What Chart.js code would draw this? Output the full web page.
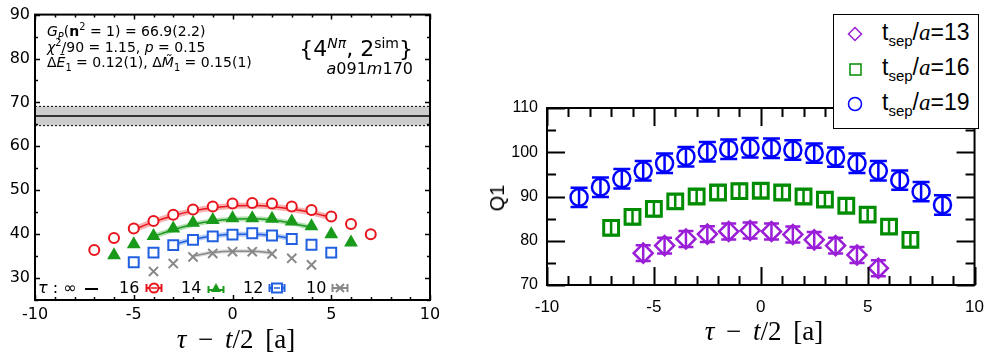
<!DOCTYPE html>
<html><head><meta charset="utf-8">
<script src="https://cdn.jsdelivr.net/npm/chart.js@4.4.1/dist/chart.umd.min.js"></script>
<style>
body{margin:0;background:#fff;width:996px;height:356px;overflow:hidden;position:relative;font-family:"DejaVu Sans",sans-serif;color:#000;}
canvas{position:absolute;top:0;}
.t{position:absolute;white-space:nowrap;line-height:1;}
.ann{font-family:"DejaVu Sans";font-size:14px;left:47px;}
.ann sub,.ann sup{font-size:70%;line-height:0;}
.ttl{font-family:"Liberation Serif";font-size:27px;text-align:center;width:260px;word-spacing:5px;}
.lg{font-family:"DejaVu Sans";font-size:16px;top:280px;}
.leg{position:absolute;left:833px;top:14px;width:146px;height:115px;box-sizing:border-box;border:1.5px solid #000;background:#fff;}
.row{position:absolute;left:0;height:30px;width:140px;}
.row svg{position:absolute;left:13px;top:6px;}
.row span{position:absolute;left:48px;top:1px;font-family:"Liberation Sans";font-size:23px;white-space:nowrap;line-height:1;}
.row sub{font-size:15px;line-height:0;vertical-align:-6px;}
</style></head>
<body>
<canvas id="c1" width="440" height="356" style="left:0"></canvas>
<canvas id="c2" width="496" height="356" style="left:500px"></canvas>

<div class="t ann" style="top:24px"><i>G<sub>P</sub></i>(<b>n</b><sup>2</sup> = 1) = 66.9(2.2)</div>
<div class="t ann" style="top:40px"><i>χ</i><sup>2</sup>/90 = 1.15, <i>p</i> = 0.15</div>
<div class="t ann" style="top:55px">Δ<i>E&#771;</i><sub>1</sub> = 0.12(1), Δ<i>M&#771;</i><sub>1</sub> = 0.15(1)</div>
<div class="t" style="right:583px;top:38px;font-size:22px;font-family:'DejaVu Sans'">{4<sup style="font-size:14px;line-height:0"><i>Nπ</i></sup>, 2<sup style="font-size:14px;line-height:0">sim</sup>}</div>
<div class="t" style="right:583px;top:61px;font-size:16px;font-family:'DejaVu Sans'"><i>a</i>091<i>m</i>170</div>

<div class="t lg" style="left:38px"><i>τ</i> : ∞</div>
<div class="t" style="left:85px;top:288px;width:13px;height:2px;background:#000"></div>
<div class="t lg" style="left:119px">16</div>
<svg class="t" style="left:145px;top:282px" width="18" height="12"><line x1="1" y1="6" x2="17" y2="6" stroke="#e8141c" stroke-width="2"/><line x1="1.5" y1="2" x2="1.5" y2="10" stroke="#e8141c" stroke-width="2"/><line x1="16.5" y1="2" x2="16.5" y2="10" stroke="#e8141c" stroke-width="2"/><circle cx="9" cy="6" r="4.5" fill="#fff" stroke="#e8141c" stroke-width="2"/><line x1="6" y1="6" x2="12" y2="6" stroke="#e8141c" stroke-width="1.5"/></svg>
<div class="t lg" style="left:181px">14</div>
<svg class="t" style="left:207px;top:282px" width="18" height="12"><line x1="1" y1="8" x2="17" y2="8" stroke="#1a9a1a" stroke-width="2"/><line x1="1.5" y1="4" x2="1.5" y2="11" stroke="#1a9a1a" stroke-width="2"/><line x1="16.5" y1="4" x2="16.5" y2="11" stroke="#1a9a1a" stroke-width="2"/><polygon points="9,1 14,10 4,10" fill="#1a9a1a"/></svg>
<div class="t lg" style="left:243px">12</div>
<svg class="t" style="left:268px;top:282px" width="18" height="12"><line x1="1" y1="6" x2="17" y2="6" stroke="#1f5fe0" stroke-width="2"/><line x1="1.5" y1="2" x2="1.5" y2="10" stroke="#1f5fe0" stroke-width="2"/><line x1="16.5" y1="2" x2="16.5" y2="10" stroke="#1f5fe0" stroke-width="2"/><rect x="4" y="1.5" width="10" height="9" fill="#fff" stroke="#1f5fe0" stroke-width="2"/><line x1="6" y1="6" x2="12" y2="6" stroke="#1f5fe0" stroke-width="1.5"/></svg>
<div class="t lg" style="left:306px">10</div>
<svg class="t" style="left:331px;top:282px" width="18" height="12"><line x1="1" y1="6" x2="17" y2="6" stroke="#888" stroke-width="2"/><line x1="1.5" y1="2" x2="1.5" y2="10" stroke="#888" stroke-width="2"/><line x1="16.5" y1="2" x2="16.5" y2="10" stroke="#888" stroke-width="2"/><line x1="5" y1="2" x2="13" y2="10" stroke="#888" stroke-width="2"/><line x1="13" y1="2" x2="5" y2="10" stroke="#888" stroke-width="2"/></svg>

<div class="t ttl" style="left:106px;top:326px"><i>τ</i> − <i>t</i>/2 [a]</div>
<div class="t ttl" style="left:634px;top:318px"><i>τ</i> − <i>t</i>/2 [a]</div>
<div class="t" style="left:497px;top:198px;font-family:'Liberation Sans';font-size:20px;transform:translate(-50%,-50%) rotate(-90deg)">Q1</div>

<div class="leg">
  <div class="row" style="top:5px"><svg width="16" height="16"><polygon points="8,1.5 14.5,8 8,14.5 1.5,8" fill="none" stroke="#9a1ed8" stroke-width="1.5"/></svg><span>t<sub>sep</sub>/<i style="font-family:'Liberation Serif'">a</i>=13</span></div>
  <div class="row" style="top:40px"><svg width="16" height="16"><rect x="3" y="3" width="11" height="11" fill="none" stroke="#008c00" stroke-width="1.5"/></svg><span>t<sub>sep</sub>/<i style="font-family:'Liberation Serif'">a</i>=16</span></div>
  <div class="row" style="top:75px"><svg width="16" height="16"><circle cx="8" cy="8" r="6.5" fill="none" stroke="#0000ff" stroke-width="1.5"/></svg><span>t<sub>sep</sub>/<i style="font-family:'Liberation Serif'">a</i>=19</span></div>
</div>

<script>
// ---------------- Left panel data ----------------
const xTicksL = [-10, -5, 0, 5, 10];
const yTicksL = [30, 40, 50, 60, 70, 80, 90];
const GP = 66.9, GPerr = 2.2;

const tau16 = [-7,-6,-5,-4,-3,-2,-1,0,1,2,3,4,5,6,7];
const ratio16 = [36.4,39.1,41.3,43.0,44.4,45.6,46.3,47.0,47.1,47.0,46.3,45.5,44.0,42.3,40.0];
const err16 = [0.35,0.35,0.35,0.35,0.35,0.35,0.35,0.35,0.35,0.35,0.35,0.35,0.35,0.35,0.35];
const fitX16 = [-5,-4,-3,-2,-1,0,1,2,3,4,5];
const fit16 = [41.0,42.8,44.2,45.3,46.0,46.4,46.5,46.3,45.7,44.9,43.8];

const tau14 = [-6,-5,-4,-3,-2,-1,0,1,2,3,4,5,6];
const ratio14 = [35.2,37.7,39.6,41.3,42.6,43.2,43.6,43.6,43.5,42.9,41.8,40.0,38.1];
const fitX14 = [-4,-3,-2,-1,0,1,2,3,4];
const fit14 = [39.5,41.0,42.2,43.0,43.4,43.5,43.2,42.5,41.5];

const tau12 = [-5,-4,-3,-2,-1,0,1,2,3,4,5];
const ratio12 = [33.6,35.8,37.5,38.7,39.5,39.9,40.2,39.7,38.9,37.6,35.8];
const err12 = [0.2,0.2,0.2,0.2,0.2,0.2,0.2,0.2,0.2,0.2,0.2];
const fitX12 = [-3,-2,-1,0,1,2,3];
const fit12 = [37.6,38.8,39.6,40.0,40.0,39.7,39.0];

const tau10 = [-4,-3,-2,-1,0,1,2,3,4];
const ratio10 = [31.5,33.3,34.8,35.6,36.0,36.0,35.5,34.5,33.0];
const fitX10 = [-2,-1,0,1,2];
const fit10 = [35.0,35.8,36.1,36.1,35.7];

// ---------------- Right panel data ----------------
const xTicksR = [-10, -5, 0, 5, 10];
const yTicksR = [70, 80, 90, 100, 110];

const x19 = [-8.5,-7.5,-6.5,-5.5,-4.5,-3.5,-2.5,-1.5,-0.5,0.5,1.5,2.5,3.5,4.5,5.5,6.5,7.5,8.5];
const q19 = [89.8,92.1,94.0,95.8,97.5,99.0,100.1,100.7,101.0,100.9,100.5,99.8,98.9,97.5,95.8,93.7,91.1,88.1];
const e19 = [2.2,2.2,2.2,2.2,2.2,2.2,2.2,2.2,2.2,2.2,2.2,2.2,2.2,2.2,2.2,2.2,2.2,2.2];

const x16 = [-7,-6,-5,-4,-3,-2,-1,0,1,2,3,4,5,6,7];
const q16 = [82.9,85.4,87.2,88.9,90.0,90.9,91.2,91.3,90.9,90.0,89.3,87.9,85.9,83.2,80.2];
const e16 = [1.6,1.6,1.6,1.6,1.6,1.6,1.6,1.6,1.6,1.6,1.6,1.6,1.6,1.6,1.6];

const x13 = [-5.5,-4.5,-3.5,-2.5,-1.5,-0.5,0.5,1.5,2.5,3.5,4.5,5.5];
const q13 = [77.2,78.9,80.4,81.5,82.1,82.3,82.1,81.4,80.2,78.9,76.8,73.8];
const e13 = [1.8,1.8,1.8,1.8,1.8,1.8,1.8,1.8,1.8,1.8,1.8,1.8];

// ---------------- helpers & plugins ----------------
const pts = (xs, ys) => xs.map((x, i) => ({x, y: ys[i]}));

const frameTicks = {
  id: 'frameTicks',
  afterDatasetsDraw(chart, args, o) {
    const {ctx, chartArea: a, scales: {x, y}} = chart;
    ctx.save();
    ctx.strokeStyle = '#000';
    ctx.lineWidth = o.tickWidth;
    const isMajor = (v, m) => Math.abs(v / m - Math.round(v / m)) < 1e-6;
    ctx.beginPath();
    for (let k = 0; ; k++) {
      const v = x.min + k * o.xMinor;
      if (v > x.max + 1e-9) break;
      const len = isMajor(v, o.xMajor) ? o.majorLen : o.minorLen;
      const px = Math.round(x.getPixelForValue(v)) + 0.5;
      ctx.moveTo(px, a.bottom); ctx.lineTo(px, a.bottom - len);
      ctx.moveTo(px, a.top); ctx.lineTo(px, a.top + len);
    }
    for (let k = 0; ; k++) {
      const v = y.min + k * o.yMinor;
      if (v > y.max + 1e-9) break;
      const len = isMajor(v, o.yMajor) ? o.majorLen : o.minorLen;
      const py = Math.round(y.getPixelForValue(v)) + 0.5;
      ctx.moveTo(a.left, py); ctx.lineTo(a.left + len, py);
      ctx.moveTo(a.right, py); ctx.lineTo(a.right - len, py);
    }
    ctx.stroke();
    ctx.lineWidth = o.frameWidth;
    ctx.strokeRect(a.left, a.top, a.right - a.left, a.bottom - a.top);
    ctx.restore();
  }
};

const errorBars = {
  id: 'errorBars',
  beforeDatasetsDraw(chart) {
    const {ctx, scales: {y}} = chart;
    chart.data.datasets.forEach((ds, i) => {
      if (!ds.errors) return;
      const meta = chart.getDatasetMeta(i);
      ctx.save();
      ctx.strokeStyle = ds.borderColor;
      ctx.lineWidth = ds.errWidth || 2;
      ctx.beginPath();
      meta.data.forEach((el, j) => {
        const v = ds.data[j].y, e = ds.errors[j];
        const y1 = y.getPixelForValue(v + e), y2 = y.getPixelForValue(v - e);
        const c = ds.capWidth / 2;
        ctx.moveTo(el.x, y1); ctx.lineTo(el.x, y2);
        ctx.moveTo(el.x - c, y1); ctx.lineTo(el.x + c, y1);
        ctx.moveTo(el.x - c, y2); ctx.lineTo(el.x + c, y2);
      });
      ctx.stroke();
      ctx.restore();
    });
  }
};

const gpBand = {
  id: 'gpBand',
  beforeDatasetsDraw(chart) {
    const {ctx, chartArea: a, scales: {y}} = chart;
    const yt = y.getPixelForValue(GP + GPerr), yb = y.getPixelForValue(GP - GPerr), yc = y.getPixelForValue(GP);
    ctx.save();
    ctx.fillStyle = '#cccccc';
    ctx.fillRect(a.left, yt, a.right - a.left, yb - yt);
    ctx.strokeStyle = '#000';
    ctx.lineWidth = 1.5;
    ctx.beginPath(); ctx.moveTo(a.left, yc); ctx.lineTo(a.right, yc); ctx.stroke();
    ctx.lineWidth = 1;
    ctx.setLineDash([2, 2]);
    ctx.beginPath();
    ctx.moveTo(a.left, yt); ctx.lineTo(a.right, yt);
    ctx.moveTo(a.left, yb); ctx.lineTo(a.right, yb);
    ctx.stroke();
    ctx.restore();
  }
};

const RED = '#e8141c', GREEN = '#1a9a1a', BLUE = '#1f5fe0', GRAY = '#888888';

const markL = (label, xs, ys, color, style, radius, fill, errs, cap) => ({
  label, data: pts(xs, ys), pointStyle: style, pointRadius: radius,
  borderColor: color, backgroundColor: fill, pointBorderWidth: 2, borderWidth: 2,
  showLine: false, errors: errs, capWidth: cap, errWidth: 1.5
});
const fitLine = (xs, ys, color, w) => ({
  data: pts(xs, ys), showLine: true, pointRadius: 0, borderColor: color,
  borderWidth: w, cubicInterpolationMode: 'monotone', fill: false
});

new Chart(document.getElementById('c1'), {
  type: 'scatter',
  data: { datasets: [
    markL('16', tau16, ratio16, RED, 'circle', 5, '#ffffff', err16, 6),
    markL('14', tau14, ratio14, GREEN, 'triangle', 6, GREEN, null, 0),
    markL('12', tau12, ratio12, BLUE, 'rect', 7, '#ffffff', err12, 6),
    markL('10', tau10, ratio10, GRAY, 'crossRot', 6.5, GRAY, null, 0),
    fitLine(fitX16, fit16, RED, 1.5),
    fitLine(fitX14, fit14, GREEN, 1.5),
    fitLine(fitX12, fit12, BLUE, 1.5),
    fitLine(fitX10, fit10, GRAY, 1.5),
    fitLine(fitX16, fit16, 'rgba(235,60,60,0.4)', 6),
    fitLine(fitX14, fit14, 'rgba(40,160,40,0.35)', 5),
    fitLine(fitX12, fit12, 'rgba(40,100,230,0.35)', 5),
    fitLine(fitX10, fit10, 'rgba(140,140,140,0.3)', 4)
  ]},
  options: {
    responsive: false, animation: false, clip: false,
    layout: { padding: { top: 13, right: 10, left: 0, bottom: 0 } },
    plugins: { legend: { display: false }, tooltip: { enabled: false },
      frameTicks: { xMajor: 5, xMinor: 1, yMajor: 10, yMinor: 5, majorLen: 5, minorLen: 3, tickWidth: 1.5, frameWidth: 2 } },
    scales: {
      x: { type: 'linear', min: -10, max: 10,
        afterBuildTicks: s => { s.ticks = xTicksL.map(v => ({value: v})); },
        afterFit: s => { s.height = 56; s.paddingRight = 0; s.paddingLeft = 0; },
        grid: { display: false, drawTicks: false }, border: { display: false },
        ticks: { padding: 5, color: '#000', font: { family: 'DejaVu Sans', size: 16 }, maxRotation: 0 } },
      y: { type: 'linear', min: 25, max: 90,
        afterBuildTicks: s => { s.ticks = yTicksL.map(v => ({value: v})); },
        afterFit: s => { s.width = 35; },
        grid: { display: false, drawTicks: false }, border: { display: false },
        ticks: { padding: 5, color: '#000', font: { family: 'DejaVu Sans', size: 16 } } }
    }
  },
  plugins: [gpBand, errorBars, frameTicks]
});

const markR = (label, xs, ys, errs, color, style, radius, bw, cap) => ({
  label, data: pts(xs, ys), pointStyle: style, pointRadius: radius,
  borderColor: color, backgroundColor: 'rgba(0,0,0,0)', pointBorderWidth: bw, borderWidth: bw,
  showLine: false, errors: errs, capWidth: cap, errWidth: 2.5
});

new Chart(document.getElementById('c2'), {
  type: 'scatter',
  data: { datasets: [
    markR('t_sep/a=13', x13, q13, e13, '#9a1ed8', 'rectRot', 9.5, 2.5, 15),
    markR('t_sep/a=16', x16, q16, e16, '#008c00', 'rect', 10.5, 3, 14),
    markR('t_sep/a=19', x19, q19, e19, '#0000ff', 'circle', 8.5, 2.5, 17)
  ]},
  options: {
    responsive: false, animation: false, clip: false,
    layout: { padding: { top: 108, right: 14, left: 0, bottom: 0 } },
    plugins: { legend: { display: false }, tooltip: { enabled: false },
      frameTicks: { xMajor: 5, xMinor: 1, yMajor: 10, yMinor: 5, majorLen: 18, minorLen: 9, tickWidth: 2, frameWidth: 2 } },
    scales: {
      x: { type: 'linear', min: -10, max: 10,
        afterBuildTicks: s => { s.ticks = xTicksR.map(v => ({value: v})); },
        afterFit: s => { s.height = 71; },
        grid: { display: false, drawTicks: false }, border: { display: false },
        ticks: { padding: 12, color: '#000', font: { family: 'Liberation Sans', size: 17 }, maxRotation: 0 } },
      y: { type: 'linear', min: 70, max: 110,
        afterBuildTicks: s => { s.ticks = yTicksR.map(v => ({value: v})); },
        afterFit: s => { s.width = 47; },
        grid: { display: false, drawTicks: false }, border: { display: false },
        ticks: { padding: 9, color: '#000', font: { family: 'Liberation Sans', size: 16 } } }
    }
  },
  plugins: [errorBars, frameTicks]
});
</script>
</body></html>
